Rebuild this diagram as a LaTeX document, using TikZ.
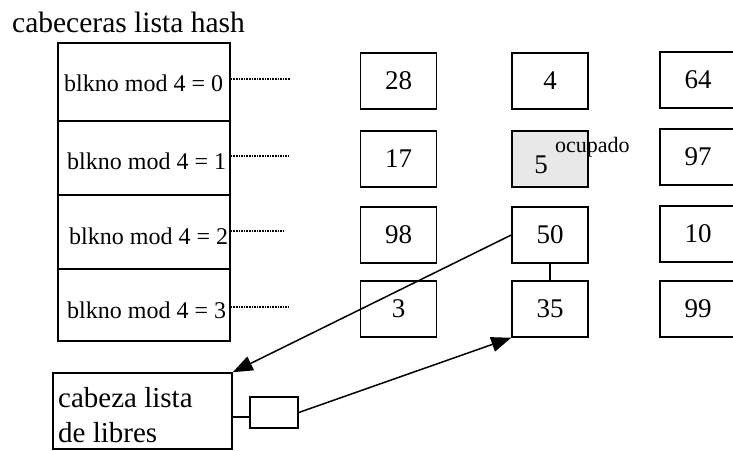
\documentclass[tikz,border=0pt]{standalone}
\usepackage{fontspec}
\setmainfont{Liberation Serif}
\usetikzlibrary{arrows.meta}
\begin{document}
\begin{tikzpicture}[x=1pt,y=-1pt,
  numbox/.style={draw,line width=1.5pt,minimum width=76pt,minimum height=56pt,inner sep=0pt,font=\fontsize{27}{30}\selectfont},
  hrow/.style={draw,line width=1.5pt,minimum width=172pt,inner sep=0pt},
  htext/.style={anchor=base west,inner sep=0pt,font=\fontsize{24}{28}\selectfont},
  ptr/.style={line width=1.6pt,densely dotted},
  arr/.style={line width=1.5pt,-{Triangle[length=20pt,width=15pt]}}]
\useasboundingbox (0,0) rectangle (733,450);
\clip (0,0) rectangle (733,450);
% title
\node[anchor=base west,inner sep=0pt,font=\fontsize{29.5}{32}\selectfont] (title) at (12,32) {cabeceras lista hash};
% hash header stack
\node[hrow,minimum height=78pt] (h0) at (144,82) {};
\node[hrow,minimum height=74pt] (h1) at (144,158) {};
\node[hrow,minimum height=74pt] (h2) at (144,232) {};
\node[hrow,minimum height=72pt] (h3) at (144,305) {};
\node[htext] (t0) at (64,91) {blkno mod 4 = 0};
\node[htext] (t1) at (67,169) {blkno mod 4 = 1};
\node[htext] (t2) at (69,244) {blkno mod 4 = 2};
\node[htext] (t3) at (67,318) {blkno mod 4 = 3};
\coordinate (e0) at (290,79);
\coordinate (e1) at (289,156);
\coordinate (e2) at (284,231);
\coordinate (e3) at (288,307);
\draw[ptr] (e0 -| h0.east) -- (e0);
\draw[ptr] (e1 -| h1.east) -- (e1);
\draw[ptr] (e2 -| h2.east) -- (e2);
\draw[ptr] (e3 -| h3.east) -- (e3);
% buffer boxes
\node[numbox] (b28) at (398.5,81) {28};
\node[numbox] (b17) at (398.5,159) {17};
\node[numbox] (b98) at (398.5,235) {98};
\node[numbox] (b3)  at (398.5,309) {3};
\node[numbox] (b4)  at (550,81) {4};
\node[numbox,fill=black!9] (b5) at (550,159) {};
\node[numbox] (b50) at (550,235) {50};
\node[numbox] (b35) at (550,309) {35};
\node[numbox] (b64) at (698,80) {64};
\node[numbox] (b97) at (698,157) {97};
\node[numbox] (b10) at (698,234) {10};
\node[numbox] (b99) at (698,309) {99};
\node[anchor=base,inner sep=0pt,font=\fontsize{27}{30}\selectfont] (n5) at (541,173) {5};
\node[anchor=base west,inner sep=0pt,font=\fontsize{22}{24}\selectfont] (ocup) at (555,152) {ocupado};
\draw[line width=1.5pt] (b50.south) -- (b35.north);
% free list head
\node[draw,line width=1.5pt,minimum width=179pt,minimum height=76pt,inner sep=0pt] (cab) at (142.5,411) {};
\node[anchor=base west,inner sep=0pt,font=\fontsize{29}{32}\selectfont] (c1) at (58,407) {cabeza lista};
\node[anchor=base west,inner sep=0pt,font=\fontsize{29}{32}\selectfont] (c2) at (58,442) {de libres};
\node[draw,line width=1.5pt,minimum width=48pt,minimum height=31pt,inner sep=0pt] (small) at (274,412.5) {};
\coordinate (lk) at ([yshift=-4.5pt]small.west);
\draw[line width=1.5pt] (lk -| cab.east) -- (lk);
\draw[arr] (b50.west) -- (cab.north east);
\draw[arr] (small.east) -- (b35.south west);
\end{tikzpicture}
\end{document}
